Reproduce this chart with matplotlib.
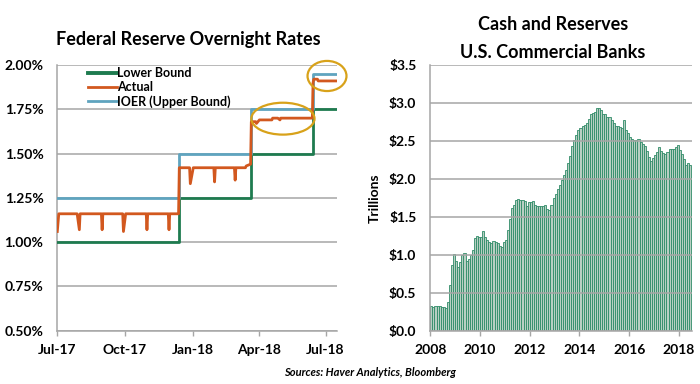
import matplotlib
matplotlib.use("Agg")
import matplotlib.pyplot as plt
import matplotlib.dates as mdates
from matplotlib.patches import Ellipse
import numpy as np
import pandas as pd

plt.rcParams['font.family'] = ['Lato', 'DejaVu Sans']

# ---------------- Left chart data ----------------
lower_dates = ["2017-07-01", "2017-12-14", "2018-03-22", "2018-06-14", "2018-07-17"]
lower_vals = [1.00, 1.25, 1.50, 1.75, 1.75]
ioer_dates = ["2017-07-01", "2017-12-14", "2018-03-22", "2018-06-14", "2018-07-17"]
ioer_vals = [1.25, 1.50, 1.75, 1.95, 1.95]

actual_dates = [
    "2017-07-01", "2017-07-03", "2017-07-28", "2017-07-31", "2017-08-01",
    "2017-08-30", "2017-08-31", "2017-09-01", "2017-09-28", "2017-09-29",
    "2017-10-02", "2017-10-30", "2017-10-31", "2017-11-01", "2017-11-29",
    "2017-11-30", "2017-12-01", "2017-12-13", "2017-12-14", "2017-12-28",
    "2017-12-29", "2018-01-02", "2018-01-30", "2018-01-31", "2018-02-01",
    "2018-02-27", "2018-02-28", "2018-03-01", "2018-03-14", "2018-03-15",
    "2018-03-21", "2018-03-22", "2018-03-28", "2018-03-29", "2018-04-02",
    "2018-04-19", "2018-04-20", "2018-04-27", "2018-04-30", "2018-05-01",
    "2018-06-13", "2018-06-14", "2018-06-15", "2018-06-20", "2018-06-21",
    "2018-07-16",
]
actual_vals = [
    1.06, 1.16, 1.16, 1.07, 1.16,
    1.16, 1.07, 1.16, 1.16, 1.06,
    1.16, 1.16, 1.07, 1.16, 1.16,
    1.07, 1.16, 1.16, 1.42, 1.42,
    1.33, 1.42, 1.42, 1.34, 1.42,
    1.42, 1.35, 1.42, 1.42, 1.43,
    1.44, 1.68, 1.68, 1.67, 1.69,
    1.69, 1.70, 1.70, 1.69, 1.70,
    1.70, 1.90, 1.92, 1.92, 1.91,
    1.91,
]

left_yticks = [0.50, 0.75, 1.00, 1.25, 1.50, 1.75, 2.00]
left_yticklabels = ["0.50%", "0.75%", "1.00%", "1.25%", "1.50%", "1.75%", "2.00%"]
left_xtick_dates = ["2017-07-01", "2017-10-01", "2018-01-01", "2018-04-01", "2018-07-01"]
left_xticklabels = ["Jul-17", "Oct-17", "Jan-18", "Apr-18", "Jul-18"]

# ---------------- Right chart data (monthly, Jan 2008 - Jun 2018, $ trillions) ----------------
reserves = [
    0.32, 0.31, 0.32, 0.32, 0.32, 0.31, 0.31, 0.30, 0.38, 0.60, 0.86, 1.01,
    0.92, 0.84, 0.91, 1.00, 1.02, 0.92, 0.94, 1.00, 1.06, 1.22, 1.25, 1.23,
    1.24, 1.31, 1.24, 1.20, 1.17, 1.15, 1.18, 1.17, 1.15, 1.11, 1.10, 1.17,
    1.20, 1.33, 1.47, 1.61, 1.65, 1.72, 1.73, 1.72, 1.72, 1.71, 1.64, 1.70,
    1.70, 1.71, 1.65, 1.64, 1.64, 1.64, 1.64, 1.65, 1.60, 1.59, 1.66, 1.75,
    1.80, 1.86, 1.92, 1.99, 2.05, 2.12, 2.21, 2.30, 2.43, 2.51, 2.58, 2.64,
    2.67, 2.69, 2.71, 2.73, 2.79, 2.86, 2.87, 2.88, 2.93, 2.93, 2.91, 2.86,
    2.85, 2.82, 2.81, 2.78, 2.74, 2.69, 2.69, 2.68, 2.67, 2.77, 2.65, 2.60,
    2.55, 2.53, 2.51, 2.51, 2.53, 2.49, 2.46, 2.43, 2.37, 2.29, 2.24, 2.27,
    2.32, 2.36, 2.42, 2.37, 2.34, 2.33, 2.36, 2.40, 2.39, 2.39, 2.42, 2.45,
    2.38, 2.33, 2.26, 2.18, 2.21, 2.18,
]
right_yticks = [0.0, 0.5, 1.0, 1.5, 2.0, 2.5, 3.0, 3.5]
right_yticklabels = ["$0.0", "$0.5", "$1.0", "$1.5", "$2.0", "$2.5", "$3.0", "$3.5"]
right_xticks = [2008, 2010, 2012, 2014, 2016, 2018]

# ---------------- Styling ----------------
GRID = "#a6a6a6"
C_LOWER = "#1e7b4f"
C_ACTUAL = "#d2581f"
C_IOER = "#5fa4bf"
C_CIRCLE = "#d8a21a"

fig = plt.figure(figsize=(7.0, 3.84), dpi=100)

# ---- Left axes ----
axL = fig.add_axes([57.3 / 700, 1 - 330.7 / 384, 280 / 700, 265.7 / 384])
ld = pd.to_datetime(lower_dates)
idd = pd.to_datetime(ioer_dates)
ad = pd.to_datetime(actual_dates)
axL.plot(ld, lower_vals, drawstyle="steps-post", color=C_LOWER, lw=2.0, label="Lower Bound", zorder=3)
axL.plot(ad, actual_vals, color=C_ACTUAL, lw=2.0, label="Actual", zorder=4)
axL.plot(idd, ioer_vals, drawstyle="steps-post", color=C_IOER, lw=2.0, label="IOER (Upper Bound)", zorder=3)

axL.set_xlim(pd.Timestamp("2017-07-01"), pd.Timestamp("2018-07-17"))
axL.set_ylim(0.50, 2.00)
axL.set_yticks(left_yticks)
axL.set_yticklabels(left_yticklabels, fontsize=10, fontweight="bold")
axL.set_xticks(pd.to_datetime(left_xtick_dates))
axL.set_xticklabels(left_xticklabels, fontsize=10, fontweight="bold")
axL.tick_params(axis="y", length=0, pad=10)
axL.tick_params(axis="x", length=3.5, width=1, color=GRID, pad=6, direction="out")
axL.grid(axis="y", color=GRID, lw=1.1, zorder=0)
for s in ["top", "right"]:
    axL.spines[s].set_visible(False)
axL.spines["left"].set_color(GRID)
axL.spines["bottom"].set_color(GRID)
axL.spines["left"].set_linewidth(1.1)
axL.spines["bottom"].set_linewidth(1.1)

leg = axL.legend(loc="upper left", bbox_to_anchor=(0.07, 1.035), frameon=False,
                 prop={"size": 9, "weight": "bold"}, handlelength=2.3,
                 handletextpad=0.0, labelspacing=0.17)
leg.get_lines()[0].set_linewidth(2.8)

# highlight ellipses
e1 = Ellipse((mdates.date2num(pd.Timestamp("2018-05-04")), 1.697), width=86, height=0.18,
             fill=False, edgecolor=C_CIRCLE, lw=1.6, clip_on=False, zorder=5)
e2 = Ellipse((mdates.date2num(pd.Timestamp("2018-07-03")), 1.938), width=53, height=0.17,
             fill=False, edgecolor=C_CIRCLE, lw=1.6, clip_on=False, zorder=5)
axL.add_patch(e1)
axL.add_patch(e2)

# ---- Right axes ----
axR = fig.add_axes([430.3 / 700, 1 - 330.7 / 384, 261.5 / 700, 265.7 / 384])
xpos = 2008 + (np.arange(len(reserves)) + 0.5) / 12.0
axR.bar(xpos, reserves, width=1 / 12.0, color="#b8cfc3", edgecolor="#2f8c68", linewidth=0.6, zorder=2)
axR.set_xlim(2008, 2018.52)
axR.set_ylim(0, 3.5)
axR.set_yticks(right_yticks)
axR.set_yticklabels(right_yticklabels, fontsize=10, fontweight="bold")
axR.set_xticks(right_xticks)
axR.set_xticklabels([str(t) for t in right_xticks], fontsize=10, fontweight="bold")
axR.tick_params(axis="y", length=0, pad=10)
axR.tick_params(axis="x", length=3.5, width=1, color=GRID, pad=6, direction="out")
axR.grid(axis="y", color=GRID, lw=1.1, zorder=3)
axR.set_axisbelow(False)
for s in ["top", "right"]:
    axR.spines[s].set_visible(False)
axR.spines["left"].set_color(GRID)
axR.spines["bottom"].set_color(GRID)
axR.spines["left"].set_linewidth(1.1)
axR.spines["bottom"].set_linewidth(1.1)
axR.set_ylabel("Trillions", fontsize=10, fontweight="bold", labelpad=6)

# ---- Titles & footer ----
fig.text(188 / 700, 1 - 39 / 384, "Federal Reserve Overnight Rates", ha="center", va="center",
         fontsize=13, fontweight="bold")
fig.text(553 / 700, 1 - 24 / 384, "Cash and Reserves", ha="center", va="center",
         fontsize=13, fontweight="bold")
fig.text(553 / 700, 1 - 53 / 384, "U.S. Commercial Banks", ha="center", va="center",
         fontsize=13, fontweight="bold")
fig.text(370 / 700, 1 - 372 / 384, "Sources: Haver Analytics, Bloomberg", ha="center", va="center",
         fontsize=8, fontweight="bold", style="italic")

fig.savefig("out.png", dpi=100)
